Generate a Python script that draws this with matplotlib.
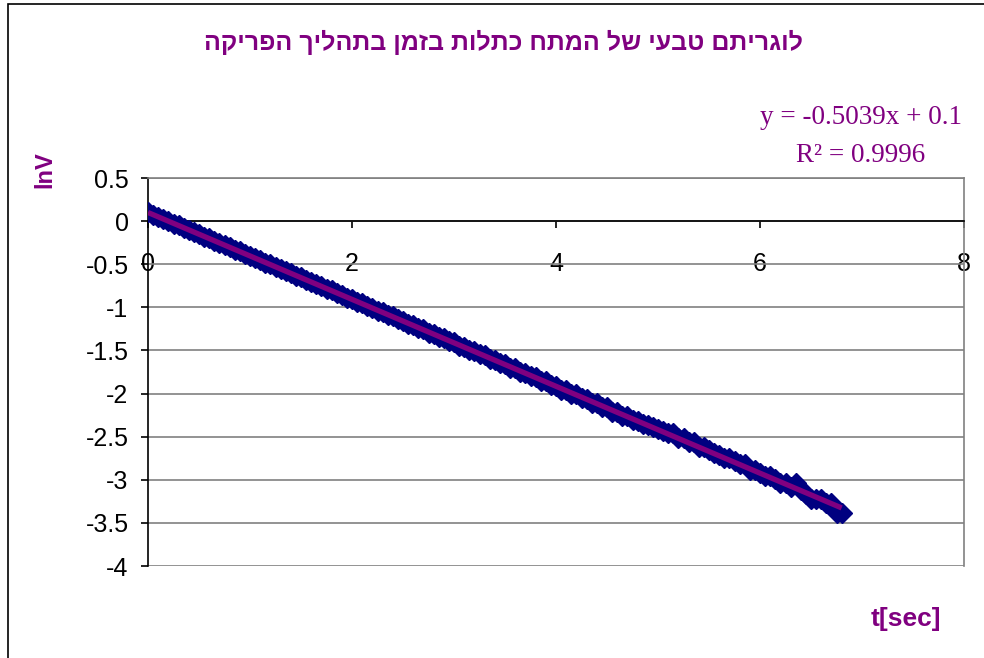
import numpy as np
import matplotlib
matplotlib.use("Agg")
import matplotlib.pyplot as plt
from matplotlib.patches import Rectangle

# Capacitor discharge: natural log of the voltage against time
t = [0.00, 0.05, 0.10, 0.15, 0.20, 0.25, 0.30, 0.35, 0.40, 0.45,
     0.50, 0.55, 0.60, 0.65, 0.70, 0.75, 0.80, 0.85, 0.90, 0.95,
     1.00, 1.05, 1.10, 1.15, 1.20, 1.25, 1.30, 1.35, 1.40, 1.45,
     1.50, 1.55, 1.60, 1.65, 1.70, 1.75, 1.80, 1.85, 1.90, 1.95,
     2.00, 2.05, 2.10, 2.15, 2.20, 2.25, 2.30, 2.35, 2.40, 2.45,
     2.50, 2.55, 2.60, 2.65, 2.70, 2.75, 2.80, 2.85, 2.90, 2.95,
     3.00, 3.05, 3.10, 3.15, 3.20, 3.25, 3.30, 3.35, 3.40, 3.45,
     3.50, 3.55, 3.60, 3.65, 3.70, 3.75, 3.80, 3.85, 3.90, 3.95,
     4.00, 4.05, 4.10, 4.15, 4.20, 4.25, 4.30, 4.35, 4.40, 4.45,
     4.50, 4.55, 4.60, 4.65, 4.70, 4.75, 4.80, 4.85, 4.90, 4.95,
     5.00, 5.05, 5.10, 5.15, 5.20, 5.25, 5.30, 5.35, 5.40, 5.45,
     5.50, 5.55, 5.60, 5.65, 5.70, 5.75, 5.80, 5.85, 5.90, 5.95,
     6.00, 6.05, 6.10, 6.15, 6.20, 6.25, 6.30, 6.35, 6.40, 6.45,
     6.50, 6.55, 6.60, 6.65, 6.70, 6.75, 6.80]

lnV = [0.104, 0.072, 0.052, 0.021, 0.003, -0.029, -0.048, -0.080, -0.098, -0.131,
       -0.149, -0.180, -0.199, -0.231, -0.250, -0.282, -0.300, -0.331, -0.350, -0.382,
       -0.401, -0.432, -0.451, -0.483, -0.501, -0.533, -0.552, -0.584, -0.602, -0.634,
       -0.652, -0.685, -0.703, -0.735, -0.753, -0.786, -0.803, -0.836, -0.853, -0.887,
       -0.904, -0.937, -0.954, -0.988, -1.004, -1.039, -1.054, -1.089, -1.105, -1.140,
       -1.155, -1.190, -1.205, -1.241, -1.255, -1.292, -1.305, -1.342, -1.355, -1.393,
       -1.405, -1.444, -1.456, -1.494, -1.506, -1.545, -1.556, -1.596, -1.606, -1.647,
       -1.656, -1.698, -1.706, -1.749, -1.756, -1.800, -1.807, -1.851, -1.857, -1.902,
       -1.907, -1.953, -1.957, -2.004, -2.008, -2.055, -2.058, -2.107, -2.108, -2.159,
       -2.159, -2.210, -2.210, -2.262, -2.262, -2.303, -2.313, -2.354, -2.364, -2.386,
       -2.408, -2.430, -2.457, -2.457, -2.510, -2.510, -2.565, -2.565, -2.623, -2.623,
       -2.659, -2.688, -2.718, -2.749, -2.749, -2.781, -2.813, -2.813, -2.882, -2.882,
       -2.919, -2.956, -2.956, -2.996, -3.037, -3.037, -3.079, -3.037, -3.124, -3.170,
       -3.219, -3.219, -3.219, -3.270, -3.270, -3.381, -3.381]

# linear trendline
slope = -0.5039
intercept = 0.1
r2 = 0.9996

title = "לוגריתם טבעי של המתח כתלות בזמן בתהליך הפריקה"

purple = "#800080"
navy = "#000080"

fig = plt.figure(figsize=(9.84, 6.58), dpi=100)
ax = fig.add_axes([148 / 984, 1 - 566 / 658, (964 - 148) / 984, (566 - 178) / 658])

ax.plot(t, lnV, linestyle="none", marker="D", markersize=10,
        color=navy, markeredgecolor=navy, zorder=3)

tl = np.array([t[0], t[-1]])
ax.plot(tl, slope * tl + intercept, color=purple, lw=3.8,
        solid_capstyle="butt", zorder=4)

ax.set_xlim(0, 8)
ax.set_ylim(-4, 0.5)
ax.set_xticks([0, 2, 4, 6, 8])
ax.set_yticks(np.arange(-4, 0.51, 0.5))
ax.set_yticklabels(["-4", "-3.5", "-3", "-2.5", "-2", "-1.5", "-1", "-0.5", "0", "0.5"])
ax.yaxis.grid(True, color="#808080", lw=1.2)
ax.set_axisbelow(True)

ax.spines["bottom"].set_position(("data", 0))
ax.spines["bottom"].set_color("black")
ax.spines["left"].set_color("black")
ax.spines["top"].set_color("#808080")
ax.spines["right"].set_color("#808080")
for s in ax.spines.values():
    s.set_linewidth(1.2)

ax.tick_params(axis="x", direction="out", length=5, width=1.2, pad=17,
               labelsize=18)
ax.tick_params(axis="y", direction="out", length=5, width=1.2, pad=9,
               labelsize=18)
for lab in ax.get_xticklabels() + ax.get_yticklabels():
    lab.set_fontfamily("Liberation Sans")

# matplotlib lays glyphs out left to right, so the Hebrew line is reversed
fig.text(503 / 984, 1 - 42 / 658, title[::-1], ha="center", va="center",
         fontsize=18, fontweight="bold", color=purple,
         family=["Liberation Sans", "DejaVu Sans"])

fig.text(861 / 984, 1 - 117 / 658, "y = -0.5039x + 0.1", ha="center",
         va="center", fontsize=19.5, color=purple, family="Liberation Serif")
fig.text(861 / 984, 1 - 155 / 658, f"R² = {r2}", ha="center",
         va="center", fontsize=19.5, color=purple, family="Liberation Serif")

fig.text(45 / 984, 1 - 170 / 658, "lnV", rotation=90, ha="center",
         va="center", fontsize=17, fontweight="bold", color=purple,
         family="Liberation Sans")
fig.text(906 / 984, 1 - 619 / 658, "t[sec]", ha="center", va="center",
         fontsize=19, fontweight="bold", color=purple,
         family="Liberation Sans")

# chart area border
fig.patches.append(Rectangle((8 / 984, -0.1), 2, 1 - 3.5 / 658 + 0.1,
                             transform=fig.transFigure, fill=False,
                             edgecolor="black", lw=1.2))

fig.savefig("out.png", dpi=100)
